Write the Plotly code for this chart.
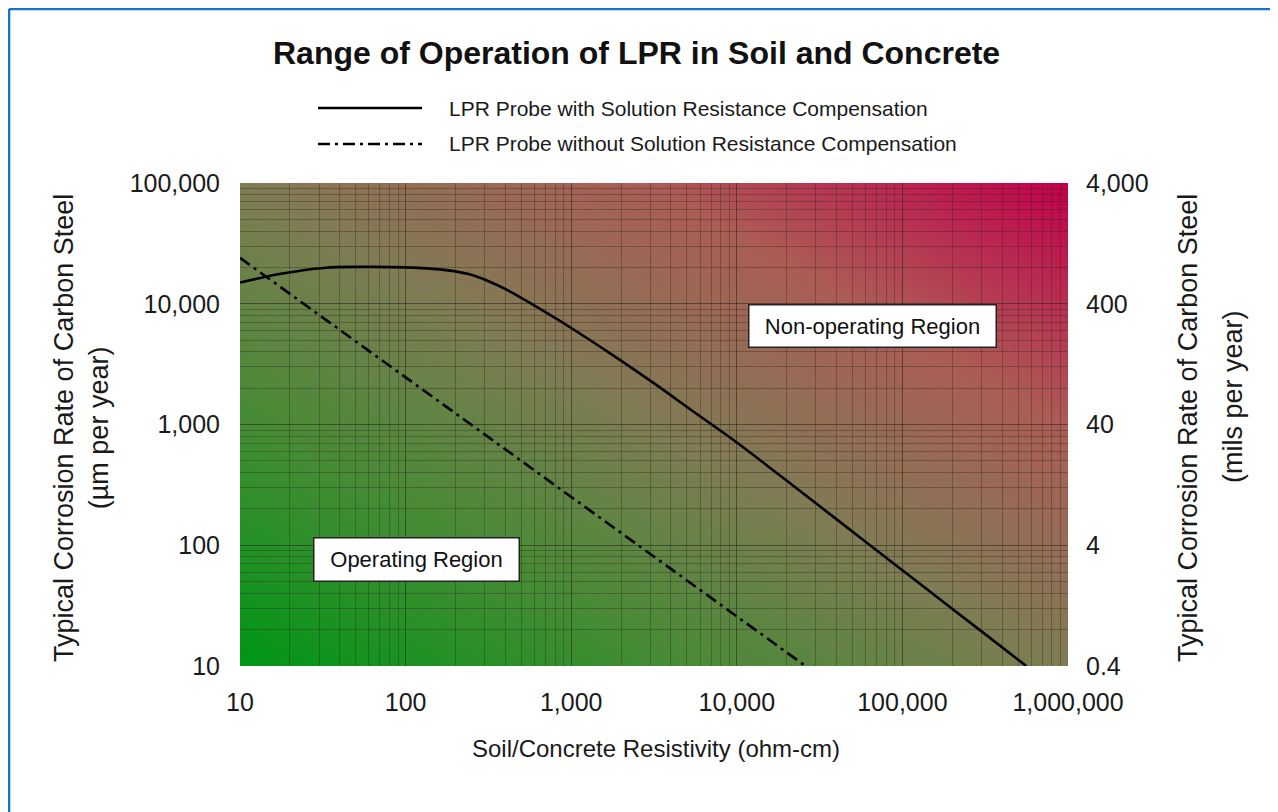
import base64
import struct
import zlib

import plotly.graph_objects as go

# ---------------- data ----------------
resistivity_comp = [10, 18, 32, 56, 100, 180, 240, 320, 420, 560, 1000, 1800, 3200,
                    5600, 10000, 18000, 32000, 56000, 100000, 180000, 320000, 560000]
rate_comp = [15000, 17800, 19800, 20200, 20000, 18900, 17600, 15300, 12800, 10200,
             6300, 3720, 2170, 1250, 710, 383, 208, 115, 62, 33.3, 18.1, 10]

resistivity_nocomp = [10, 26000]
rate_nocomp = [24000, 10]

x_ticks = [10, 100, 1000, 10000, 100000, 1000000]
x_ticktext = ["10", "100", "1,000", "10,000", "100,000", "1,000,000"]
y_ticks = [10, 100, 1000, 10000, 100000]
y_ticktext = ["10", "100", "1,000", "10,000", "100,000"]
y2_ticks = [0.4, 4, 40, 400, 4000]
y2_ticktext = ["0.4", "4", "40", "400", "4,000"]

title_text = "Range of Operation of LPR in Soil and Concrete"
legend_names = ["LPR Probe with Solution Resistance Compensation",
                "LPR Probe without Solution Resistance Compensation"]

# ---------------- layout geometry (screen pixels) ----------------
OFF = 8                      # page body margin
W, H = 1270, 804             # figure size
PL, PR, PT, PB = 240, 1068, 183, 666   # plot area on screen
FONT = "Liberation Sans, Arial, sans-serif"


def px(xp):
    return (xp - PL) / (PR - PL)


def py(yp):
    return (PB - yp) / (PB - PT)


# ---------------- background gradient image ----------------
stops = [(0.0, (0, 150, 22)), (0.25, (68, 140, 52)), (0.5, (128, 124, 84)),
         (0.75, (172, 92, 86)), (1.0, (196, 0, 76))]


def grad_color(t):
    for (t0, c0), (t1, c1) in zip(stops[:-1], stops[1:]):
        if t <= t1:
            f = (t - t0) / (t1 - t0)
            return bytes(int(round(a + (b - a) * f)) for a, b in zip(c0, c1))
    return bytes(stops[-1][1])


def gradient_png(w, h):
    raw = bytearray()
    for j in range(h):
        raw.append(0)
        v = 1 - j / (h - 1)
        for i in range(w):
            u = i / (w - 1)
            raw.extend(grad_color((u + v) / 2))

    def chunk(tag, data):
        c = struct.pack(">I", len(data)) + tag + data
        return c + struct.pack(">I", zlib.crc32(tag + data) & 0xFFFFFFFF)

    png = (b"\x89PNG\r\n\x1a\n"
           + chunk(b"IHDR", struct.pack(">IIBBBBB", w, h, 8, 2, 0, 0, 0))
           + chunk(b"IDAT", zlib.compress(bytes(raw), 9))
           + chunk(b"IEND", b""))
    return "data:image/png;base64," + base64.b64encode(png).decode()


# ---------------- figure ----------------
fig = go.Figure()

fig.add_trace(go.Scatter(
    x=resistivity_comp, y=rate_comp, mode="lines",
    line=dict(color="black", width=2.6, shape="spline", smoothing=1.0),
    name=legend_names[0], showlegend=False, hoverinfo="skip"))

fig.add_trace(go.Scatter(
    x=resistivity_nocomp, y=rate_nocomp, mode="lines",
    line=dict(color="black", width=2.6, dash="12px,5px,3px,5px"),
    name=legend_names[1], showlegend=False, hoverinfo="skip"))

# invisible trace to anchor the right axis
fig.add_trace(go.Scatter(x=[10], y=[4], yaxis="y2", mode="markers",
                         marker=dict(opacity=0), showlegend=False,
                         hoverinfo="skip"))

grid_col = "rgba(45,35,25,0.34)"

fig.update_layout(
    width=W, height=H,
    margin=dict(l=PL - OFF, r=W - (PR - OFF), t=PT - OFF, b=H - (PB - OFF)),
    paper_bgcolor="white",
    plot_bgcolor="rgba(0,0,0,0)",
    font=dict(family=FONT, color="#1a1a1a"),
    showlegend=False,
    xaxis=dict(
        type="log", range=[1, 6],
        tickvals=x_ticks, ticktext=x_ticktext,
        tickfont=dict(size=25, color="#1a1a1a"),
        showgrid=True, gridcolor=grid_col, gridwidth=1,
        minor=dict(dtick="D1", showgrid=True, gridcolor=grid_col, gridwidth=1, ticks=""),
        ticks="", showline=False, zeroline=False,
        ticklabelstandoff=19,
    ),
    yaxis=dict(
        type="log", range=[1, 5],
        tickvals=y_ticks, ticktext=y_ticktext,
        tickfont=dict(size=25, color="#1a1a1a"),
        showgrid=True, gridcolor=grid_col, gridwidth=1,
        minor=dict(dtick="D1", showgrid=True, gridcolor=grid_col, gridwidth=1, ticks=""),
        ticks="", showline=False, zeroline=False,
        ticklabelstandoff=19,
    ),
    yaxis2=dict(
        type="log", overlaying="y", side="right",
        range=[-0.39794, 3.60206],
        tickvals=y2_ticks, ticktext=y2_ticktext,
        tickfont=dict(size=25, color="#1a1a1a"),
        showgrid=False, ticks="", showline=False, zeroline=False,
        ticklabelstandoff=17,
    ),
)

fig.add_layout_image(dict(
    source=gradient_png(300, 180), xref="paper", yref="paper",
    x=0, y=1, sizex=1, sizey=1, xanchor="left", yanchor="top",
    sizing="stretch", layer="below"))

# ---------------- texts ----------------
ann = []
ann.append(dict(text="<b>" + title_text + "</b>", x=px(636), y=py(53),
                xref="paper", yref="paper", showarrow=False,
                font=dict(size=32, color="#111111"), xanchor="center", yanchor="middle"))
ann.append(dict(text="Soil/Concrete Resistivity (ohm-cm)", x=px(656), y=py(748),
                xref="paper", yref="paper", showarrow=False,
                font=dict(size=24), xanchor="center", yanchor="middle"))
ann.append(dict(text="Typical Corrosion Rate of Carbon Steel<br>(µm per year)",
                x=px(81), y=py(428), xref="paper", yref="paper", showarrow=False,
                textangle=-90, font=dict(size=27), xanchor="center", yanchor="middle"))
ann.append(dict(text="Typical Corrosion Rate of Carbon Steel",
                x=px(1188), y=py(428), xref="paper", yref="paper", showarrow=False,
                textangle=-90, font=dict(size=27), xanchor="center", yanchor="middle"))
ann.append(dict(text="(mils per year)",
                x=px(1233), y=py(397), xref="paper", yref="paper", showarrow=False,
                textangle=-90, font=dict(size=27), xanchor="center", yanchor="middle"))
for name, yy in zip(legend_names, [108, 144]):
    ann.append(dict(text=name, x=px(447), y=py(yy), xref="paper", yref="paper",
                    showarrow=False, font=dict(size=21), xanchor="left", yanchor="middle"))
ann.append(dict(text="Operating Region", x=px(416.5), y=py(559.5),
                xref="paper", yref="paper", showarrow=False,
                font=dict(size=22, color="#111111"), bgcolor="white",
                bordercolor="#222222", borderwidth=1.5, borderpad=0,
                width=204, height=42, xanchor="center", yanchor="middle"))
ann.append(dict(text="Non-operating Region", x=px(872.5), y=py(326),
                xref="paper", yref="paper", showarrow=False,
                font=dict(size=22, color="#111111"), bgcolor="white",
                bordercolor="#222222", borderwidth=1.5, borderpad=0,
                width=246, height=41, xanchor="center", yanchor="middle"))
fig.update_layout(annotations=ann)

# ---------------- legend samples and frame ----------------
shapes = [
    dict(type="line", xref="paper", yref="paper", x0=px(318), x1=px(422),
         y0=py(108), y1=py(108), line=dict(color="black", width=2.6)),
    dict(type="line", xref="paper", yref="paper", x0=px(318), x1=px(422),
         y0=py(144), y1=py(144), line=dict(color="black", width=2.6, dash="12px,5px,3px,5px")),
    dict(type="line", xref="paper", yref="paper", x0=px(9), x1=px(1290),
         y0=py(9), y1=py(9), line=dict(color="#1772c8", width=2.6)),
    dict(type="line", xref="paper", yref="paper", x0=px(9), x1=px(9),
         y0=py(9), y1=py(830), line=dict(color="#1772c8", width=2.6)),
]
fig.update_layout(shapes=shapes)

fig.write_html("out.html")
